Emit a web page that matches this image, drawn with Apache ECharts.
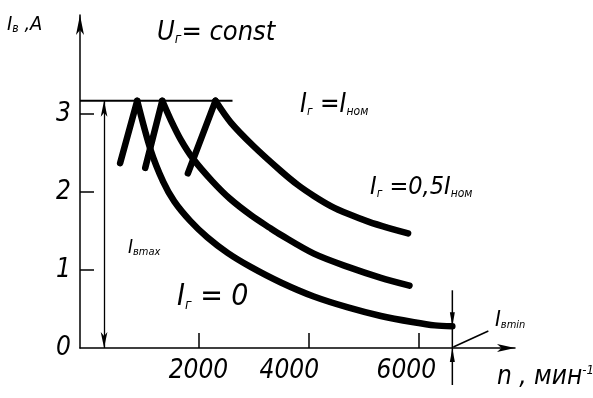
<!DOCTYPE html>
<html><head><meta charset="utf-8">
<script src="https://cdn.jsdelivr.net/npm/echarts@6/dist/echarts.min.js"></script>
<style>html,body{margin:0;padding:0;background:#fff}#c{width:593px;height:398px}</style>
</head><body><div id="c"></div>
<script>
// ---- data (n in min^-1, I in A) ----
const xTickValues = [2000, 4000, 6000];
const xTickLabels = ['2000', '4000', '6000'];
const yTickValues = [1, 2, 3];
const yLabelValues = [0, 1, 2, 3];

const levelImax = 3.17;            // I_в max
const levelEnd = 2620;             // end of the horizontal limit line
const dimImaxN = 283;              // n of I_в max dimension line
const dimIminN = 6620;             // n of I_в min dimension line

// I_г = 0 (lowest)
const legZero = [[575, 2.37], [886, 3.17]];
const curveZero = [[886,3.17],[1130,2.54],[1360,2.13],[1560,1.88],[1850,1.63],[2160,1.42],[2530,1.22],[2950,1.04],[3500,0.84],[4100,0.66],[4720,0.52],[5320,0.41],[5920,0.33],[6300,0.29],[6620,0.28]];
// I_г = 0.5 I_ном (middle)
const legHalf = [[1032, 2.31], [1342, 3.17]];
const curveHalf = [[1342,3.17],[1500,2.92],[1680,2.67],[1910,2.42],[2250,2.14],[2580,1.91],[2960,1.70],[3300,1.54],[3500,1.45],[4100,1.21],[4720,1.04],[5320,0.90],[5840,0.80]];
// I_г = I_ном (upper)
const legNom = [[1808, 2.24], [2310, 3.17]];
const curveNom = [[2310,3.17],[2590,2.89],[3000,2.59],[3500,2.27],[3810,2.09],[4100,1.95],[4410,1.82],[4720,1.72],[5090,1.62],[5450,1.54],[5815,1.47]];

const FONT = "'DejaVu Sans Condensed','Liberation Sans Narrow','DejaVu Sans',sans-serif";
const chart = echarts.init(document.getElementById('c'), null, {renderer: 'canvas'});

function thick(data, smooth) {
  return {type: 'line', data: data, symbol: 'none', smooth: smooth ? 0.3 : false,
    lineStyle: {color: '#000', width: 6.5, cap: 'round', join: 'round'}, z: 5, silent: true};
}
const labelOffsets = {'2000': 0, '4000': 38, '6000': 24};

chart.setOption({
  animation: false,
  backgroundColor: '#fff',
  grid: {left: 80, right: 78, top: 15, bottom: 50, containLabel: false},
  xAxis: {
    type: 'value', min: -155, max: 7760,
    axisLine: {show: true, onZero: false, symbol: ['none', 'arrow'], symbolSize: [6, 18], lineStyle: {color: '#000', width: 1.5}},
    axisTick: {show: true, inside: true, length: 15, customValues: xTickValues, lineStyle: {color: '#000', width: 1.5}},
    axisLabel: {show: true, customValues: xTickValues, margin: 10,
      formatter: function (v) { const s = xTickLabels[xTickValues.indexOf(v)]; return '{' + (s === '2000' ? 'a' : s === '4000' ? 'b' : 'c') + '|' + s + '}'; },
      rich: {a: {padding: [0, 0, 0, 0]}, b: {padding: [0, labelOffsets['4000'], 0, 0]}, c: {padding: [0, labelOffsets['6000'], 0, 0]}},
      color: '#000', fontSize: 26, fontStyle: 'italic', fontFamily: FONT},
    splitLine: {show: false}
  },
  yAxis: {
    type: 'value', min: 0, max: 4.27,
    axisLine: {show: true, onZero: false, symbol: ['none', 'arrow'], symbolSize: [6, 20], lineStyle: {color: '#000', width: 1.5}},
    axisTick: {show: true, inside: true, length: 14, customValues: yTickValues, lineStyle: {color: '#000', width: 1.5}},
    axisLabel: {show: true, customValues: yLabelValues, margin: 9, color: '#000', fontSize: 26, fontStyle: 'italic', fontFamily: FONT},
    splitLine: {show: false}
  },
  series: [
    {type: 'line', data: [[-155, levelImax], [levelEnd, levelImax]], symbol: 'none', lineStyle: {color: '#000', width: 2}, z: 4,
      markLine: {silent: true, symbol: ['arrow', 'arrow'], symbolSize: [5, 16], label: {show: false},
        lineStyle: {color: '#000', width: 1.3, type: 'solid'},
        data: [[{coord: [dimImaxN, 0]}, {coord: [dimImaxN, levelImax]}]]}},
    thick(legZero, false), thick(curveZero, true),
    thick(legHalf, false), thick(curveHalf, true),
    thick(legNom, false), thick(curveNom, true)
  ]
});

function px(p) { return chart.convertToPixel({gridIndex: 0}, p); }
const txt = (x, y, rich, text) => ({type: 'text', x: x, y: y, silent: true,
  style: {text: text, rich: rich, fill: '#000', verticalAlign: 'top', font: 'italic 20px ' + FONT}});
function R(main, sub) {
  return {m: {fontSize: main, fontStyle: 'italic', fontFamily: FONT, color: '#000', verticalAlign: 'bottom'},
          s: {fontSize: sub, fontStyle: 'italic', fontFamily: FONT, color: '#000', verticalAlign: 'bottom'},
          u: {fontSize: sub, fontStyle: 'italic', fontFamily: FONT, color: '#000', verticalAlign: 'top'}};
}
const dBase = px([dimIminN, 0]);
const dTop = px([dimIminN, 0.74]);
const dEnd = px([dimIminN, curveZero[curveZero.length - 1][1]]);
const lk = '#000';
chart.setOption({
  graphic: [
    {type: 'line', silent: true, shape: {x1: dBase[0], y1: dTop[1], x2: dBase[0], y2: 385}, style: {stroke: lk, lineWidth: 1.5}},
    {type: 'polygon', silent: true, shape: {points: [[dBase[0]-2.5, dEnd[1]-14], [dBase[0]+2.5, dEnd[1]-14], [dBase[0], dEnd[1]]]}, style: {fill: lk}},
    {type: 'polygon', silent: true, shape: {points: [[dBase[0]-2.5, dBase[1]+14], [dBase[0]+2.5, dBase[1]+14], [dBase[0], dBase[1]]]}, style: {fill: lk}},
    {type: 'line', silent: true, shape: {x1: dBase[0] + 1, y1: dBase[1] - 1, x2: dBase[0] + 36, y2: dBase[1] - 17}, style: {stroke: lk, lineWidth: 1.5}},
    txt(7, 15, R(20, 12), '{m|I}{s|в}{m| ,A}'),
    txt(157, 19, R(27, 14), '{m|U}{s|г}{m|= const}'),
    txt(300, 92, R(26, 12), '{m|I}{s|г}{m| =I}{s|ном}'),
    txt(370, 175, R(25, 12), '{m|I}{s|г}{m| =0,5I}{s|ном}'),
    txt(128, 239, R(19, 11), '{m|I}{s|вmax}'),
    txt(177, 282, R(30, 14), '{m|I}{s|г}{m| = 0}'),
    txt(495, 309, R(22, 11), '{m|I}{s|вmin}'),
    txt(497, 364, R(26, 13), '{m|n , мин}{u|-1}')
  ]
});
</script></body></html>
